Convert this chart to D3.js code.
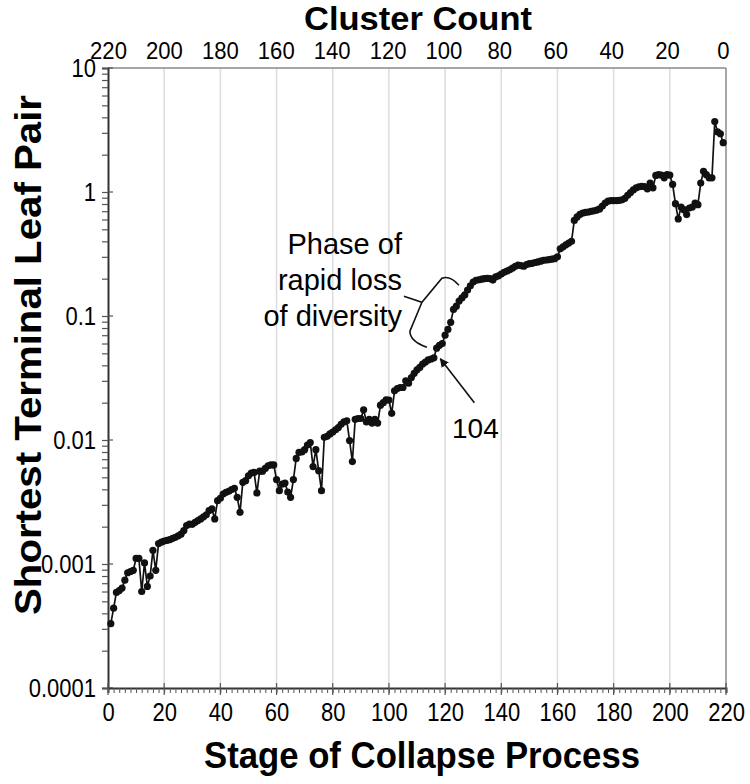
<!DOCTYPE html>
<html>
<head>
<meta charset="utf-8">
<script src="https://cdn.jsdelivr.net/npm/d3@7"></script>
<style>
  html, body { margin: 0; padding: 0; background: #fff; }
  svg { display: block; }
  text { font-family: "Liberation Sans", Arial, sans-serif; fill: #000; }
</style>
</head>
<body>
<div id="chart"></div>
<script>
// ---- data ----
const stages = d3.range(1, 220);
const values = [
  3.3e-4, 4.4e-4, 5.9e-4, 6.1e-4, 6.4e-4, 7.4e-4, 8.5e-4, 8.7e-4, 8.9e-4, 1.11e-3,
  1.11e-3, 6.0e-4, 1.02e-3, 6.6e-4, 8.0e-4, 1.29e-3, 8.9e-4, 1.46e-3, 1.5e-3, 1.53e-3,
  1.55e-3, 1.57e-3, 1.61e-3, 1.64e-3, 1.69e-3, 1.74e-3, 1.86e-3, 2.04e-3, 2.1e-3, 2.09e-3,
  2.17e-3, 2.24e-3, 2.31e-3, 2.4e-3, 2.49e-3, 2.7e-3, 2.78e-3, 2.31e-3, 3.24e-3, 3.39e-3,
  3.67e-3, 3.79e-3, 3.86e-3, 3.98e-3, 4.08e-3, 3.45e-3, 2.61e-3, 4.56e-3, 4.7e-3, 5.15e-3,
  5.42e-3, 5.48e-3, 3.74e-3, 5.6e-3, 5.6e-3, 5.9e-3, 6.2e-3, 6.3e-3, 6.3e-3, 4.8e-3,
  3.9e-3, 4.4e-3, 4.5e-3, 3.8e-3, 3.45e-3, 4.8e-3, 7.1e-3, 7.95e-3, 8.0e-3, 8.35e-3,
  9.1e-3, 9.55e-3, 6.1e-3, 8.35e-3, 5.66e-3, 3.9e-3, 1.05e-2, 1.07e-2, 1.12e-2, 1.16e-2,
  1.21e-2, 1.26e-2, 1.34e-2, 1.4e-2, 1.43e-2, 9.9e-3, 6.7e-3, 1.47e-2, 1.49e-2, 1.49e-2,
  1.75e-2, 1.4e-2, 1.47e-2, 1.37e-2, 1.47e-2, 1.37e-2, 1.91e-2, 2.0e-2, 2.11e-2, 2.1e-2,
  1.64e-2, 2.49e-2, 2.6e-2, 2.65e-2, 2.65e-2, 3.0e-2, 2.87e-2, 3.19e-2, 3.45e-2, 3.68e-2,
  3.85e-2, 4.1e-2, 4.25e-2, 4.42e-2, 4.5e-2, 4.6e-2, 5.5e-2, 5.8e-2, 6.0e-2, 7.0e-2,
  7.8e-2, 8.9e-2, 0.113, 0.12, 0.132, 0.14, 0.148, 0.162, 0.175, 0.188,
  0.194, 0.196, 0.198, 0.2, 0.201, 0.2, 0.195, 0.207, 0.211, 0.218,
  0.225, 0.23, 0.236, 0.243, 0.252, 0.257, 0.255, 0.252, 0.26, 0.264,
  0.266, 0.27, 0.273, 0.277, 0.281, 0.283, 0.285, 0.287, 0.29, 0.30,
  0.348, 0.361, 0.375, 0.387, 0.40, 0.59, 0.63, 0.66, 0.677, 0.686,
  0.69, 0.698, 0.705, 0.715, 0.73, 0.77, 0.815, 0.845, 0.851, 0.851,
  0.851, 0.857, 0.865, 0.89, 0.94, 0.99, 1.04, 1.08, 1.10, 1.11,
  1.105, 1.06, 1.18, 1.08, 1.36, 1.38, 1.37, 1.30, 1.38, 1.37,
  1.15, 0.805, 0.607, 0.757, 0.72, 0.657, 0.743, 0.757, 0.815, 0.79,
  1.18, 1.47, 1.38, 1.30, 1.30, 3.7, 3.05, 2.95, 2.5
];
const xTicks = d3.range(0, 221, 20);
const clusterTicks = d3.range(0, 221, 20);
const yTicks = [1e-4, 1e-3, 1e-2, 1e-1, 1, 10];
const yTickLabels = ["0.0001", "0.001", "0.01", "0.1", "1", "10"];
const xTitle = "Stage of Collapse Process";
const topTitle = "Cluster Count";
const yTitle = "Shortest Terminal Leaf Pair";
const phaseLines = ["Phase of", "rapid loss", "of diversity"];
const markerLabel = "104";

// ---- layout ----
const W = 750, H = 784;
const M = { left: 108, right: 726, top: 68, bottom: 688 };
const svg = d3.select("#chart").append("svg").attr("width", W).attr("height", H);

const x = d3.scaleLinear().domain([0, 220]).range([M.left, M.right]);
const xTop = d3.scaleLinear().domain([220, 0]).range([M.left, M.right - 3]);
const y = d3.scaleLog().domain([1e-4, 10]).range([M.bottom, M.top]);

function squeeze(sel, f) {
  sel.each(function () {
    const len = this.getComputedTextLength();
    d3.select(this).attr("textLength", len * f).attr("lengthAdjust", "spacingAndGlyphs");
  });
}
const TICK_FS = 25, TICK_SQ = 0.88;

// gridlines
svg.append("g").selectAll("line")
  .data(xTicks.filter(d => d > 0 && d < 220))
  .join("line")
  .attr("x1", d => x(d)).attr("x2", d => x(d))
  .attr("y1", M.top).attr("y2", M.bottom)
  .attr("stroke", "#dcdcdc").attr("stroke-width", 1.5);

// frame top & right (gray)
svg.append("line").attr("x1", M.left).attr("x2", M.right).attr("y1", M.top).attr("y2", M.top)
  .attr("stroke", "#8a8a8a").attr("stroke-width", 1.5);
svg.append("line").attr("x1", M.right).attr("x2", M.right).attr("y1", M.top).attr("y2", M.bottom)
  .attr("stroke", "#8a8a8a").attr("stroke-width", 1.5);

// left axis (log) with minor ticks
const yAll = [];
for (let e = -4; e < 1; e++) for (let m = 1; m < 10; m++) yAll.push(m * Math.pow(10, e));
yAll.push(10);
const yAxis = d3.axisLeft(y).tickValues(yAll).tickSize(6).tickPadding(6)
  .tickFormat(d => { const i = yTicks.findIndex(t => Math.abs(t - d) / t < 1e-6); return i >= 0 ? yTickLabels[i] : ""; });
const gy = svg.append("g").attr("transform", `translate(${M.left},0)`).call(yAxis);
gy.select(".domain").attr("stroke", "#333").attr("stroke-width", 2);
gy.selectAll(".tick line").attr("stroke", "#555").attr("stroke-width", 1.2);
gy.selectAll(".tick text").attr("font-size", TICK_FS).attr("font-family", "Liberation Sans, Arial, sans-serif");
squeeze(gy.selectAll(".tick text").filter(function () { return this.textContent !== ""; }), TICK_SQ);
// major ticks crossing to the right
svg.append("g").selectAll("line").data(yTicks).join("line")
  .attr("x1", M.left).attr("x2", M.left + 5).attr("y1", d => y(d)).attr("y2", d => y(d))
  .attr("stroke", "#555").attr("stroke-width", 1.2);

// bottom axis with minor ticks
const xAxis = d3.axisBottom(x).tickValues(d3.range(0, 221, 2)).tickSize(5).tickPadding(10)
  .tickFormat(d => (d % 20 === 0 ? String(d) : ""));
const gx = svg.append("g").attr("transform", `translate(0,${M.bottom})`).call(xAxis);
gx.select(".domain").attr("stroke", "#333").attr("stroke-width", 2);
gx.selectAll(".tick line").attr("stroke", "#555").attr("stroke-width", 1);
gx.selectAll(".tick text").attr("font-size", TICK_FS).attr("font-family", "Liberation Sans, Arial, sans-serif");
squeeze(gx.selectAll(".tick text").filter(function () { return this.textContent !== ""; }), TICK_SQ);
svg.append("g").selectAll("line").data(xTicks).join("line")
  .attr("x1", d => x(d)).attr("x2", d => x(d)).attr("y1", M.bottom - 5).attr("y2", M.bottom + 7)
  .attr("stroke", "#555").attr("stroke-width", 1.2);

// top axis (cluster count) - labels only
const topAxis = d3.axisTop(xTop).tickValues(clusterTicks).tickSize(0).tickPadding(9)
  .tickFormat(d => String(d));
const gt = svg.append("g").attr("transform", `translate(0,${M.top})`).call(topAxis);
gt.select(".domain").remove();
gt.selectAll(".tick text").attr("font-size", 24).attr("font-family", "Liberation Sans, Arial, sans-serif");
squeeze(gt.selectAll(".tick text"), 0.92);

// titles
svg.append("text").attr("x", 418).attr("y", 30).attr("text-anchor", "middle")
  .attr("font-size", 33).attr("font-weight", "bold").text(topTitle)
  .attr("textLength", 228).attr("lengthAdjust", "spacingAndGlyphs");
svg.append("text").attr("x", 422).attr("y", 768).attr("text-anchor", "middle")
  .attr("font-size", 37).attr("font-weight", "bold").text(xTitle)
  .attr("textLength", 436).attr("lengthAdjust", "spacingAndGlyphs");
svg.append("text").attr("transform", "translate(41,355) rotate(-90)").attr("text-anchor", "middle")
  .attr("font-size", 37).attr("font-weight", "bold").text(yTitle)
  .attr("textLength", 520).attr("lengthAdjust", "spacingAndGlyphs");

// data line + markers
const pts = stages.map((s, i) => [s, values[i]]);
svg.append("path").datum(pts)
  .attr("fill", "none").attr("stroke", "#111").attr("stroke-width", 1.7)
  .attr("d", d3.line().x(d => x(d[0])).y(d => y(d[1])));
svg.append("g").selectAll("circle").data(pts).join("circle")
  .attr("cx", d => x(d[0])).attr("cy", d => y(d[1])).attr("r", 3.6).attr("fill", "#111");

// annotation: phase text
const tg = svg.append("g");
phaseLines.forEach((t, i) => {
  tg.append("text").attr("x", 402).attr("y", 254 + i * 36).attr("text-anchor", "end")
    .attr("font-size", 29).text(t);
});

// brace anchored at data coordinates
const bx = x(105.7), by = y(0.147);   // brace tip
const brace = d3.path();
brace.moveTo(bx + 54, by - 10);
brace.quadraticCurveTo(bx + 45, by - 20, bx + 37, by - 17);
brace.lineTo(bx + 17, by + 7);
brace.lineTo(bx - 1, by + 1);
brace.moveTo(bx + 17, by + 7);
brace.lineTo(bx + 5, by + 36);
brace.quadraticCurveTo(bx + 5, by + 46, bx + 22, by + 52);
svg.append("path").attr("d", brace.toString()).attr("fill", "none")
  .attr("stroke", "#111").attr("stroke-width", 1.6);

// arrow to stage point
const ax = x(117.6), ay = y(0.0478);
svg.append("defs").append("marker").attr("id", "ah").attr("viewBox", "0 0 10 10")
  .attr("refX", 9).attr("refY", 5).attr("markerWidth", 9).attr("markerHeight", 9)
  .attr("markerUnits", "userSpaceOnUse").attr("orient", "auto")
  .append("path").attr("d", "M0,0 L10,5 L0,10 z").attr("fill", "#111");
svg.append("line").attr("x1", ax + 36).attr("y1", ay + 47).attr("x2", ax + 2).attr("y2", ay + 3)
  .attr("stroke", "#111").attr("stroke-width", 1.6).attr("marker-end", "url(#ah)");
svg.append("text").attr("x", ax + 37).attr("y", ay + 82).attr("text-anchor", "middle")
  .attr("font-size", 28).text(markerLabel);
</script>
</body>
</html>
